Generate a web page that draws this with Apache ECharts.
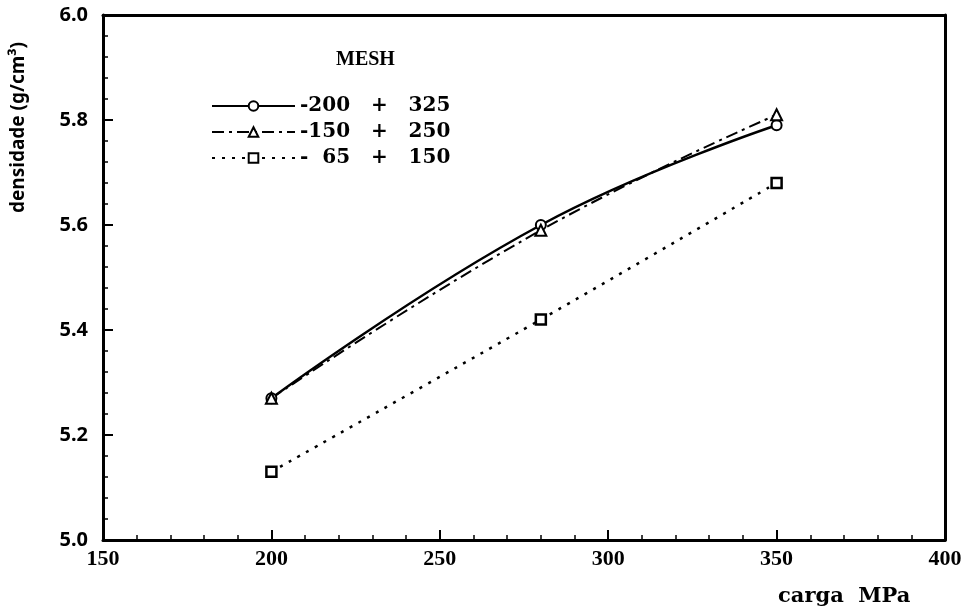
<!DOCTYPE html>
<html>
<head>
<meta charset="utf-8">
<script src="https://cdn.jsdelivr.net/npm/echarts@6/dist/echarts.min.js"></script>
<style>
  html, body { margin: 0; padding: 0; background: #fff; }
  #chart { width: 970px; height: 613px; }
</style>
</head>
<body>
<div id="chart"></div>
<script>
  // pressao de compactacao (MPa)
  const carga = [200, 280, 350];
  const mesh200_325 = [5.27, 5.60, 5.79];
  const mesh150_250 = [5.27, 5.59, 5.81];
  const mesh65_150 = [5.13, 5.42, 5.68];
  const names = ['-200   +   325', '-150   +   250', '-  65   +   150'];

  const serif = '"Liberation Serif", "DejaVu Serif", serif';
  const wideSerif = '"DejaVu Serif", serif';
  const sans = '"Noto Sans", "DejaVu Sans", sans-serif';

  function pairs(ys) {
    return carga.map((x, i) => [x, ys[i]]);
  }

  const axisTicks = {
    axisLine: { lineStyle: { color: '#000', width: 3 } },
    axisTick: { inside: true, length: 10, lineStyle: { color: '#000', width: 2 } },
    minorTick: { show: true, splitNumber: 5, length: 5, lineStyle: { color: '#000', width: 1.5 } },
    splitLine: { show: false }
  };
  const frameOnly = {
    axisLine: { lineStyle: { color: '#000', width: 3 } },
    axisTick: { show: false },
    axisLabel: { show: false },
    splitLine: { show: false }
  };

  let myChart = echarts.init(document.getElementById('chart'));
  myChart.setOption({
    backgroundColor: '#fff',
    animation: false,
    grid: { left: 103, right: 25, top: 15, bottom: 73 },
    legend: {
      orient: 'vertical',
      left: 206,
      top: 91,
      itemWidth: 83,
      itemHeight: 12,
      itemGap: 6,
      textStyle: { fontFamily: wideSerif, fontWeight: 'bold', fontSize: 20, color: '#000' },
      data: names
    },
    graphic: [
      {
        type: 'text', left: 336, top: 50,
        style: { text: 'MESH', font: 'bold 20px ' + serif, fill: '#000' }
      },
      {
        type: 'text', left: 778, top: 586,
        style: { text: 'carga  MPa', font: 'bold 21px ' + wideSerif, fill: '#000' }
      },
      {
        type: 'text', x: 9, y: 213, rotation: Math.PI / 2,
        style: { text: 'densidade (g/cm³)', font: 'bold 19px ' + sans, fill: '#000', verticalAlign: 'top' }
      }
    ],
    xAxis: [
      Object.assign({
        type: 'value', min: 150, max: 400, interval: 50,
        axisLabel: { color: '#000', fontFamily: serif, fontWeight: 'bold', fontSize: 22, margin: 8 }
      }, axisTicks),
      Object.assign({ type: 'value', position: 'top', min: 150, max: 400, interval: 50 }, frameOnly)
    ],
    yAxis: [
      Object.assign({
        type: 'value', min: 5.0, max: 6.0, interval: 0.2,
        axisLabel: { color: '#000', fontFamily: sans, fontWeight: 'bold', fontSize: 20, margin: 15,
          formatter: v => v.toFixed(1) }
      }, axisTicks),
      Object.assign({ type: 'value', position: 'right', min: 5.0, max: 6.0, interval: 0.2 }, frameOnly)
    ],
    series: [
      {
        name: names[0], type: 'line', data: pairs(mesh200_325),
        smooth: 0.45, symbol: 'circle', symbolSize: 10,
        color: '#000',
        lineStyle: { color: '#000', width: 2.5, type: 'solid' },
        itemStyle: { color: '#fff', borderColor: '#000', borderWidth: 2 }
      },
      {
        name: names[1], type: 'line', data: pairs(mesh150_250),
        smooth: 0.45, symbol: 'triangle', symbolSize: 11,
        color: '#000',
        lineStyle: { color: '#000', width: 2, type: [12, 5, 3, 5] },
        itemStyle: { color: '#fff', borderColor: '#000', borderWidth: 2 }
      },
      {
        name: names[2], type: 'line', data: pairs(mesh65_150),
        smooth: 0.3, symbol: 'rect', symbolSize: 10,
        color: '#000',
        lineStyle: { color: '#000', width: 2.5, type: [3, 7] },
        itemStyle: { color: '#fff', borderColor: '#000', borderWidth: 2.5 }
      }
    ]
  });
</script>
</body>
</html>
